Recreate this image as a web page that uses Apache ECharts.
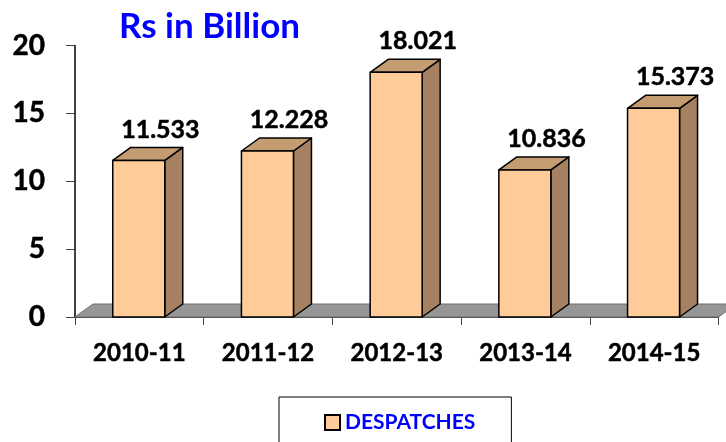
<!DOCTYPE html>
<html><head><meta charset="utf-8">
<style>html,body{margin:0;padding:0;background:#fff}#c{width:726px;height:442px}</style>
<script src="https://cdn.jsdelivr.net/npm/echarts@6/dist/echarts.min.js"></script>
</head><body><div id="c"></div>
<script>
const categories = ['2010-11','2011-12','2012-13','2013-14','2014-15'];
const despatches = [11.533,12.228,18.021,10.836,15.373];
const labels = ['11.533','12.228','18.021','10.836','15.373'];
const FONT = 'Lato, "Open Sans", sans-serif';
const DX = 18, DY = 13, BAR = 52;
const chart = echarts.init(document.getElementById('c'), null, {renderer:'canvas'});
function poly(points, fill, z2){
  return {type:'polygon', z2:z2, shape:{points:points},
    style:{fill:fill, stroke:'#000', lineWidth:1.5, lineJoin:'round'}};
}
function renderBar(params, api){
  const top = api.coord([api.value(0), api.value(1)]);
  const base = api.coord([api.value(0), 0]);
  const x0 = top[0]-BAR/2-0.6, x1 = x0+BAR, y0 = top[1], y1 = base[1];
  return {type:'group', children:[
    poly([[x1,y0],[x1+DX,y0-DY],[x1+DX,y1-DY],[x1,y1]], '#A58162', 1),
    poly([[x0,y0],[x0+DX,y0-DY],[x1+DX,y0-DY],[x1,y0]], '#C49C72', 1),
    poly([[x0,y0],[x1,y0],[x1,y1],[x0,y1]], '#FFCC99', 2),
    {type:'text', z2:3, style:{text:labels[params.dataIndex], x:top[0]+21, y:y0-DY-18,
      align:'center', verticalAlign:'middle', fontFamily:FONT, fontWeight:'bold', fontSize:25, fill:'#000',
      stroke:'#000', lineWidth:0.5}}
  ]};
}
function renderFloor(params){
  const c = params.coordSys, y = c.y+c.height, x = c.x, r = c.x+c.width;
  return {type:'polygon', shape:{points:[[x,y],[x+DX,y-DY],[r+DX,y-DY],[r,y]]},
    style:{fill:'#969696', stroke:'#6e6e6e', lineWidth:1}};
}
chart.setOption({
  animation:false,
  backgroundColor:'#fff',
  title:{text:'Rs in Billion', left:119, top:9, padding:0,
    textStyle:{fontFamily:FONT, fontWeight:'bold', fontSize:35, color:'#0000FF'}},
  legend:{data:['DESPATCHES'], left:279, top:397, orient:'horizontal', padding:[15,36,30,45],
    borderColor:'#000', borderWidth:1, itemWidth:15, itemHeight:15, itemGap:6, icon:'rect',
    itemStyle:{color:'#FFCC99',borderColor:'#000',borderWidth:2},
    textStyle:{fontFamily:FONT, fontWeight:'bold', fontSize:21, color:'#0000FF'}},
  grid:{left:75, right:7.5, top:45.5, bottom:125, containLabel:false},
  xAxis:{type:'category', data:categories, boundaryGap:true,
    axisLine:{show:true,onZero:false,lineStyle:{color:'#000',width:1.5}},
    axisTick:{show:true,alignWithLabel:false,length:8,lineStyle:{color:'#444',width:1}},
    axisLabel:{interval:0,margin:24,fontFamily:FONT,fontWeight:'bold',fontSize:24,color:'#000',
      textBorderColor:'#000',textBorderWidth:0.5},
    splitLine:{show:false}},
  yAxis:{type:'value', min:0, max:20, interval:5,
    axisLine:{show:true,lineStyle:{color:'#000',width:1.5}},
    axisTick:{show:true,length:9,lineStyle:{color:'#444',width:1}},
    axisLabel:{margin:30,fontFamily:FONT,fontWeight:'bold',fontSize:28,color:'#000',lineHeight:32,padding:[8,0,0,0],
      textBorderColor:'#000',textBorderWidth:0.5},
    splitLine:{show:false}},
  series:[
    {name:'floor', type:'custom', renderItem:renderFloor, data:[[0,0]], clip:false, silent:true, z:1},
    {name:'DESPATCHES', type:'custom', renderItem:renderBar, clip:false, z:3,
     encode:{x:0,y:1},
     itemStyle:{color:'#FFCC99',borderColor:'#000',borderWidth:2},
     data:despatches.map((v,i)=>[i,v])}
  ]
});
</script></body></html>
